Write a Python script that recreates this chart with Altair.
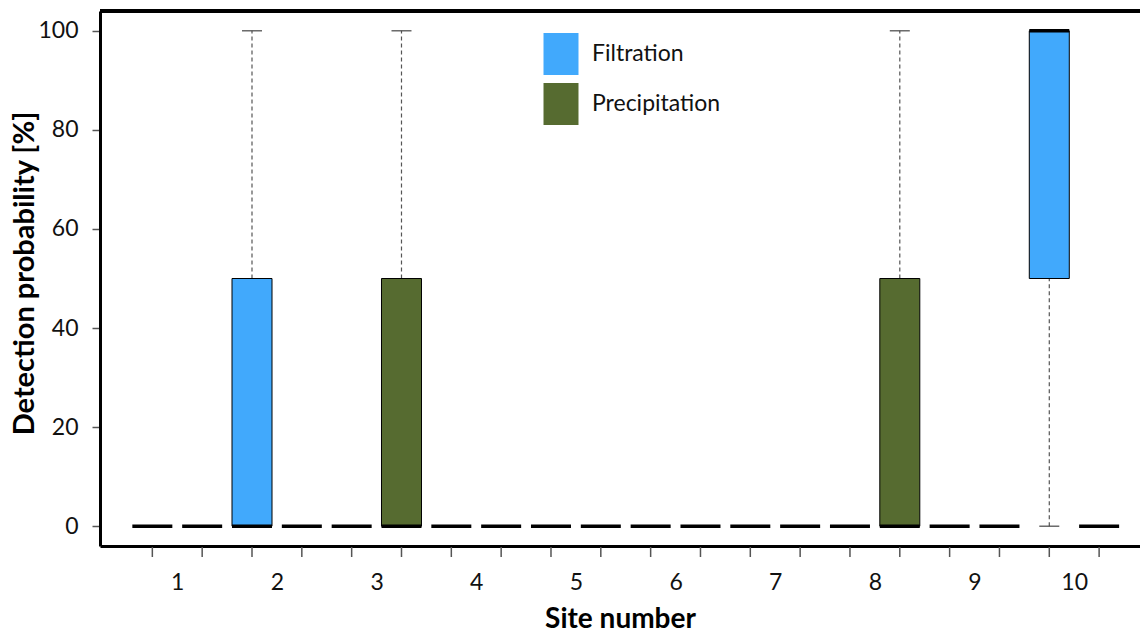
import altair as alt
import pandas as pd

sites = [1, 2, 3, 4, 5, 6, 7, 8, 9, 10]
methods = ["Filtration", "Precipitation"]
colors = ["#41A9FC", "#566B30"]

# five-number summaries per site (detection probability, %)
filt_min = [0, 0, 0, 0, 0, 0, 0, 0, 0, 0]
filt_q1 = [0, 0, 0, 0, 0, 0, 0, 0, 0, 50]
filt_med = [0, 0, 0, 0, 0, 0, 0, 0, 0, 100]
filt_q3 = [0, 50, 0, 0, 0, 0, 0, 0, 0, 100]
filt_max = [0, 100, 0, 0, 0, 0, 0, 0, 0, 100]

prec_min = [0, 0, 0, 0, 0, 0, 0, 0, 0, 0]
prec_q1 = [0, 0, 0, 0, 0, 0, 0, 0, 0, 0]
prec_med = [0, 0, 0, 0, 0, 0, 0, 0, 0, 0]
prec_q3 = [0, 0, 50, 0, 0, 0, 0, 50, 0, 0]
prec_max = [0, 0, 100, 0, 0, 0, 0, 100, 0, 0]

y_ticks = [0, 20, 40, 60, 80, 100]

rows = []
for j, s in enumerate(sites):
    for m, (mn, q1, md, q3, mx) in enumerate([
        (filt_min, filt_q1, filt_med, filt_q3, filt_max),
        (prec_min, prec_q1, prec_med, prec_q3, prec_max),
    ]):
        rows.append({
            "site": s, "method": methods[m], "pos": 2 * s - 1 + m,
            "min": mn[j], "q1": q1[j], "median": md[j], "q3": q3[j], "max": mx[j],
        })
df = pd.DataFrame(rows)

W, H = 1040, 535
FONT = "Lato"

label_vals = [2 * s - 0.5 for s in sites]

xscale = alt.Scale(domain=[0.05, 20.72], nice=False, zero=False)
yscale = alt.Scale(domain=[-4, 104], nice=False, zero=False)

xaxis = alt.Axis(
    values=label_vals, title="Site number",
    labelExpr="(datum.value + 0.5) / 2",
    labelOverlap=False, labelFlush=False,
    tickOpacity=0, tickSize=10,
    labelFontSize=23, labelPadding=15, labelColor="#111111", labelFont=FONT,
    domainColor="black", domainWidth=3, grid=False,
    titleFontSize=28, titleFontWeight="bold", titleFont=FONT, titleColor="black",
    titleY=81, titleBaseline="alphabetic",
)
yaxis = alt.Axis(
    values=y_ticks, title="Detection probability [%]",
    tickSize=8, tickColor="#555555", tickWidth=1.5,
    labelFontSize=23, labelPadding=14, labelColor="#111111", labelFont=FONT,
    domainColor="black", domainWidth=3, grid=False,
    titleFontSize=29, titleFontWeight="bold", titleFont=FONT, titleColor="black",
    titleX=-67, titleY=262, titleBaseline="alphabetic",
)

base = alt.Chart(df)

# tick marks under the x axis, one per box position
xticks = base.mark_rule(color="#555555", strokeWidth=1.5, clip=False).encode(
    x=alt.X("pos:Q", scale=xscale, axis=xaxis),
    y=alt.value(H + 1),
    y2=alt.value(H + 11),
)

whisk_up = base.transform_filter("datum.max > datum.q3").mark_rule(
    color="#555555", strokeWidth=1.2, strokeDash=[4, 3]
).encode(
    x=alt.X("pos:Q", scale=xscale),
    y=alt.Y("q3:Q", scale=yscale, axis=yaxis),
    y2="max:Q",
)
whisk_dn = base.transform_filter("datum.min < datum.q1").mark_rule(
    color="#555555", strokeWidth=1.2, strokeDash=[4, 3]
).encode(x=alt.X("pos:Q", scale=xscale), y=alt.Y("min:Q", scale=yscale), y2="q1:Q")

cap_up = base.transform_filter("datum.max > datum.q3").mark_tick(
    orient="horizontal", size=20, thickness=1.2, color="#444444", opacity=1
).encode(x=alt.X("pos:Q", scale=xscale), y=alt.Y("max:Q", scale=yscale))
cap_dn = base.transform_filter("datum.min < datum.q1").mark_tick(
    orient="horizontal", size=20, thickness=1.2, color="#444444", opacity=1
).encode(x=alt.X("pos:Q", scale=xscale), y=alt.Y("min:Q", scale=yscale))

boxes = base.transform_filter("datum.q3 > datum.q1").mark_bar(
    size=40, stroke="black", strokeWidth=1, opacity=1
).encode(
    x=alt.X("pos:Q", scale=xscale),
    y=alt.Y("q1:Q", scale=yscale),
    y2="q3:Q",
    color=alt.Color("method:N", scale=alt.Scale(domain=methods, range=colors),
                    legend=alt.Legend(title=None)),
)

medians = base.mark_tick(orient="horizontal", size=40, thickness=3.5, color="black", opacity=1).encode(
    x=alt.X("pos:Q", scale=xscale), y=alt.Y("median:Q", scale=yscale)
)

top_line = alt.Chart(df).mark_rule(color="black", strokeWidth=3).encode(
    x=alt.value(0), x2=alt.value(W), y=alt.value(0)
)

chart = alt.layer(xticks, whisk_up, whisk_dn, cap_up, cap_dn, boxes, medians, top_line).properties(
    width=W, height=H,
    autosize=alt.AutoSizeParams(type="none"),
    padding={"left": 100, "top": 11, "right": 0, "bottom": 86},
    background="white",
).configure_view(stroke=None).configure_legend(
    orient="none", legendX=440, legendY=22, padding=0, offset=0,
    symbolType="M-0.833,-1H0.833V1H-0.833Z", symbolSize=1764,
    symbolStrokeWidth=0, symbolOpacity=1,
    labelFontSize=23, labelFont=FONT, labelColor="#111111", labelOffset=10,
    rowPadding=8,
)

chart.save("out.html", embed_options={"renderer": "svg", "actions": False})
